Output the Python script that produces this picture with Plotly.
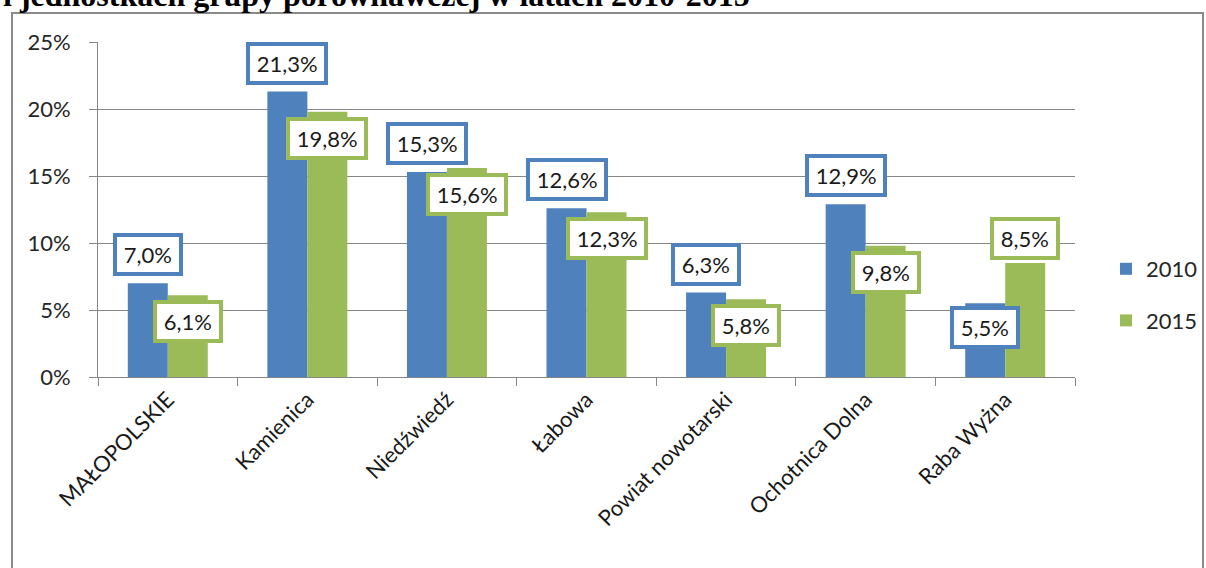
import plotly.graph_objects as go

categories = ["MAŁOPOLSKIE", "Kamienica", "Niedźwiedź", "Łabowa",
              "Powiat nowotarski", "Ochotnica Dolna", "Raba Wyżna"]
series_names = ["2010", "2015"]
values_2010 = [7.0, 21.3, 15.3, 12.6, 6.3, 12.9, 5.5]
values_2015 = [6.1, 19.8, 15.6, 12.3, 5.8, 9.8, 8.5]
y_ticks = [0, 5, 10, 15, 20, 25]
y_tick_labels = ["0%", "5%", "10%", "15%", "20%", "25%"]
title_text = "i jednostkach grupy porównawczej w latach 2010-2015"

# style
colors = ["#4F81BD", "#9BBB59"]
label_place_2010 = ["out", "out", "out", "out", "out", "out", "in"]
label_place_2015 = ["in", "in", "in", "in", "in", "in", "out"]
FONT = "Lato"

W, H = 1206, 568
L, R, T, B = 98, 1075, 42, 377

fig = go.Figure()
for i, (name, vals) in enumerate(zip(series_names, [values_2010, values_2015])):
    fig.add_trace(go.Bar(
        x=categories, y=vals, name=name, marker_color=colors[i],
        marker_line_width=0, legendgroup=name,
    ))

def fmt(v):
    return f"{v:.1f}".replace(".", ",") + "%"

annotations = []
for i, (vals, places) in enumerate(zip([values_2010, values_2015],
                                       [label_place_2010, label_place_2015])):
    xs = -20 if i == 0 else 20
    for c, v, p in zip(categories, vals, places):
        if p == "out":
            ya, ys = "bottom", 7 if i == 0 else 3
        else:
            ya, ys = "top", -5 if i == 1 else -3
        annotations.append(dict(
            x=c, y=v, xref="x", yref="y", text="\u2009" + fmt(v) + "\u2009",
            showarrow=False,
            xshift=xs, yshift=ys, yanchor=ya, xanchor="center",
            font=dict(family=FONT, size=22, color="#1a1a1a"),
            bgcolor="white", bordercolor=colors[i], borderwidth=4, borderpad=4,
        ))

pw, ph = R - L, B - T
def px(xp):
    return (xp - L) / pw
def py(yp):
    return (B - yp) / ph

annotations.append(dict(
    x=px(1), y=py(15), xref="paper", yref="paper", xanchor="left", yanchor="bottom",
    text="<b>" + title_text + "</b>", showarrow=False,
    font=dict(family="Liberation Serif", size=32, color="#000000"),
))

fig.update_layout(
    width=W, height=H, autosize=False,
    margin=dict(l=L, r=W - R, t=T, b=H - B, pad=0, autoexpand=False),
    paper_bgcolor="white", plot_bgcolor="white",
    barmode="group", bargap=0.427, bargroupgap=0,
    font=dict(family=FONT, size=22, color="#262626"),
    annotations=annotations,
    showlegend=True,
    legend=dict(x=px(1106), y=py(295), xanchor="left", yanchor="middle",
                font=dict(family=FONT, size=22, color="#262626"),
                tracegroupgap=20, bgcolor="rgba(0,0,0,0)"),
    shapes=[dict(type="rect", xref="paper", yref="paper",
                 x0=px(12), x1=px(1203), y0=py(13), y1=py(620),
                 line=dict(color="#8a8a8a", width=2), layer="below")],
)
fig.update_xaxes(
    type="category", showline=True, linecolor="#868686", linewidth=1,
    ticks="outside", tickson="boundaries", ticklen=8, tickcolor="#868686",
    tickangle=-45, showgrid=False, range=[-0.5, 6.5],
    tickfont=dict(family=FONT, size=22, color="#1a1a1a"),
)
fig.update_yaxes(
    range=[0, 25], tickmode="array", tickvals=y_ticks, ticktext=y_tick_labels,
    showline=True, linecolor="#868686", linewidth=1,
    ticks="outside", ticklen=8, tickcolor="#868686",
    showgrid=True, gridcolor="#868686", gridwidth=1, zeroline=False,
    ticklabelstandoff=14,
    tickfont=dict(family=FONT, size=22, color="#262626"),
)
fig.write_html(
    "out.html",
    config={"displayModeBar": False, "responsive": False, "staticPlot": True},
    post_script=("document.documentElement.style.overflow='hidden';"
                 "document.body.style.overflow='hidden';"
                 "document.body.style.margin='0';document.body.style.padding='0';"),
)
